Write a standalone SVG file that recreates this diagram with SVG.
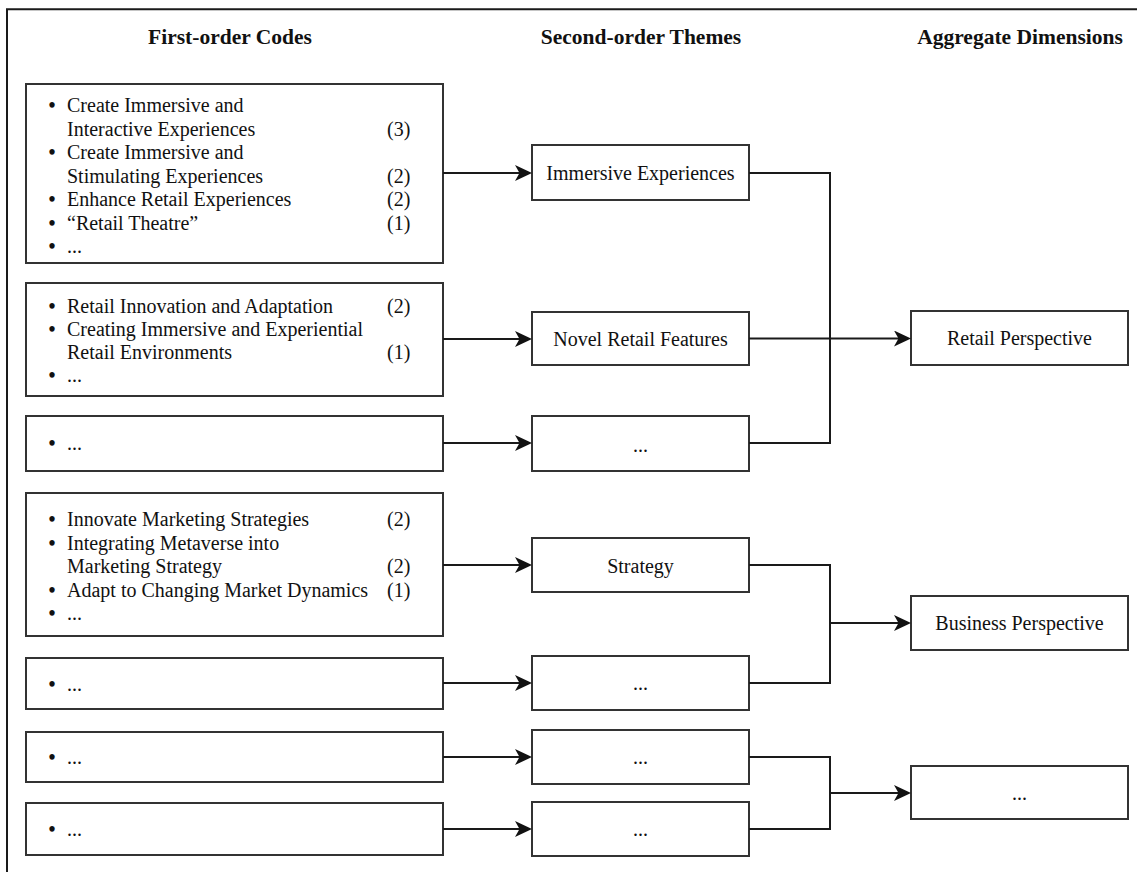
<svg xmlns="http://www.w3.org/2000/svg" width="1137" height="872" viewBox="0 0 1137 872">
<style>
.bg{fill:#ffffff}
.frame{fill:none;stroke:#1a1a1a;stroke-width:2}
.box{fill:#ffffff;stroke:#333333;stroke-width:2}
.hdr{font-family:"Liberation Serif","Times New Roman",serif;font-size:21.5px;font-weight:bold;fill:#111111;text-anchor:middle}
.t{font-family:"Liberation Serif","Times New Roman",serif;font-size:20px;fill:#111111}
.c{text-anchor:middle}
.b{text-anchor:middle;font-weight:bold}
.con{fill:none;stroke:#1a1a1a;stroke-width:2}
</style>
<defs>
<marker id="arr" markerUnits="userSpaceOnUse" markerWidth="20" markerHeight="18" refX="11" refY="8" orient="auto">
<path d="M0,0 L17,8 L0,16 L4.5,8 Z" fill="#111111"/>
</marker>
</defs>
<rect class="bg" x="0" y="0" width="1137" height="872"/>
<path class="frame" d="M7,872 V9.3 H1137"/>

<g id="headers">
<text class="hdr" x="230" y="44">First-order Codes</text>
<text class="hdr" x="641" y="44">Second-order Themes</text>
<text class="hdr" x="1020" y="44">Aggregate Dimensions</text>
</g>

<g id="code1">
<rect class="box" x="26" y="84" width="417" height="179"/>
<text class="t b" x="52" y="112">•</text><text class="t" x="67" y="112">Create Immersive and</text>
<text class="t" x="67" y="135.5">Interactive Experiences</text><text class="t" x="387" y="135.5">(3)</text>
<text class="t b" x="52" y="159">•</text><text class="t" x="67" y="159">Create Immersive and</text>
<text class="t" x="67" y="182.5">Stimulating Experiences</text><text class="t" x="387" y="182.5">(2)</text>
<text class="t b" x="52" y="206">•</text><text class="t" x="67" y="206">Enhance Retail Experiences</text><text class="t" x="387" y="206">(2)</text>
<text class="t b" x="52" y="229.5">•</text><text class="t" x="67" y="229.5">“Retail Theatre”</text><text class="t" x="387" y="229.5">(1)</text>
<text class="t b" x="52" y="253">•</text><text class="t" x="67" y="253">...</text>
</g>

<g id="code2">
<rect class="box" x="26" y="283" width="417" height="113"/>
<text class="t b" x="52" y="313">•</text><text class="t" x="67" y="313">Retail Innovation and Adaptation</text><text class="t" x="387" y="313">(2)</text>
<text class="t b" x="52" y="336">•</text><text class="t" x="67" y="336">Creating Immersive and Experiential</text>
<text class="t" x="67" y="359">Retail Environments</text><text class="t" x="387" y="359">(1)</text>
<text class="t b" x="52" y="382">•</text><text class="t" x="67" y="382">...</text>
</g>

<g id="code3">
<rect class="box" x="26" y="416" width="417" height="55"/>
<text class="t b" x="52" y="450">•</text><text class="t" x="67" y="450">...</text>
</g>

<g id="code4">
<rect class="box" x="26" y="493" width="417" height="143"/>
<text class="t b" x="52" y="526">•</text><text class="t" x="67" y="526">Innovate Marketing Strategies</text><text class="t" x="387" y="526">(2)</text>
<text class="t b" x="52" y="549.5">•</text><text class="t" x="67" y="549.5">Integrating Metaverse into</text>
<text class="t" x="67" y="573">Marketing Strategy</text><text class="t" x="387" y="573">(2)</text>
<text class="t b" x="52" y="596.5">•</text><text class="t" x="67" y="596.5">Adapt to Changing Market Dynamics</text><text class="t" x="387" y="596.5">(1)</text>
<text class="t b" x="52" y="620">•</text><text class="t" x="67" y="620">...</text>
</g>

<g id="code5">
<rect class="box" x="26" y="658" width="417" height="51"/>
<text class="t b" x="52" y="691">•</text><text class="t" x="67" y="691">...</text>
</g>

<g id="code6">
<rect class="box" x="26" y="732" width="417" height="50"/>
<text class="t b" x="52" y="764">•</text><text class="t" x="67" y="764">...</text>
</g>

<g id="code7">
<rect class="box" x="26" y="803" width="417" height="52"/>
<text class="t b" x="52" y="836">•</text><text class="t" x="67" y="836">...</text>
</g>

<g id="theme1">
<rect class="box" x="532" y="145" width="217" height="55"/>
<text class="t c" x="640.5" y="180">Immersive Experiences</text>
</g>
<g id="theme2">
<rect class="box" x="532" y="312" width="217" height="53"/>
<text class="t c" x="640.5" y="346">Novel Retail Features</text>
</g>
<g id="theme3">
<rect class="box" x="532" y="416" width="217" height="55"/>
<text class="t c" x="640.5" y="452">...</text>
</g>
<g id="theme4">
<rect class="box" x="532" y="538" width="217" height="54"/>
<text class="t c" x="640.5" y="573">Strategy</text>
</g>
<g id="theme5">
<rect class="box" x="532" y="656" width="217" height="54"/>
<text class="t c" x="640.5" y="690">...</text>
</g>
<g id="theme6">
<rect class="box" x="532" y="730" width="217" height="54"/>
<text class="t c" x="640.5" y="764">...</text>
</g>
<g id="theme7">
<rect class="box" x="532" y="802" width="217" height="54"/>
<text class="t c" x="640.5" y="836">...</text>
</g>

<g id="dim1">
<rect class="box" x="911" y="311" width="217" height="54"/>
<text class="t c" x="1019.5" y="345">Retail Perspective</text>
</g>
<g id="dim2">
<rect class="box" x="911" y="596" width="217" height="54"/>
<text class="t c" x="1019.5" y="630">Business Perspective</text>
</g>
<g id="dim3">
<rect class="box" x="911" y="766" width="217" height="53"/>
<text class="t c" x="1019.5" y="800">...</text>
</g>

<g id="connectors">
<path class="con" d="M443,173 H526" marker-end="url(#arr)"/>
<path class="con" d="M443,339 H526" marker-end="url(#arr)"/>
<path class="con" d="M443,443 H526" marker-end="url(#arr)"/>
<path class="con" d="M443,565 H526" marker-end="url(#arr)"/>
<path class="con" d="M443,683 H526" marker-end="url(#arr)"/>
<path class="con" d="M443,757 H526" marker-end="url(#arr)"/>
<path class="con" d="M443,829 H526" marker-end="url(#arr)"/>
<path class="con" d="M749,173 H830 V443 H749"/>
<path class="con" d="M749,338.5 H905" marker-end="url(#arr)"/>
<path class="con" d="M749,565 H830 V683 H749"/>
<path class="con" d="M830,623 H905" marker-end="url(#arr)"/>
<path class="con" d="M749,757 H830 V829 H749"/>
<path class="con" d="M830,793 H905" marker-end="url(#arr)"/>
</g>
</svg>
